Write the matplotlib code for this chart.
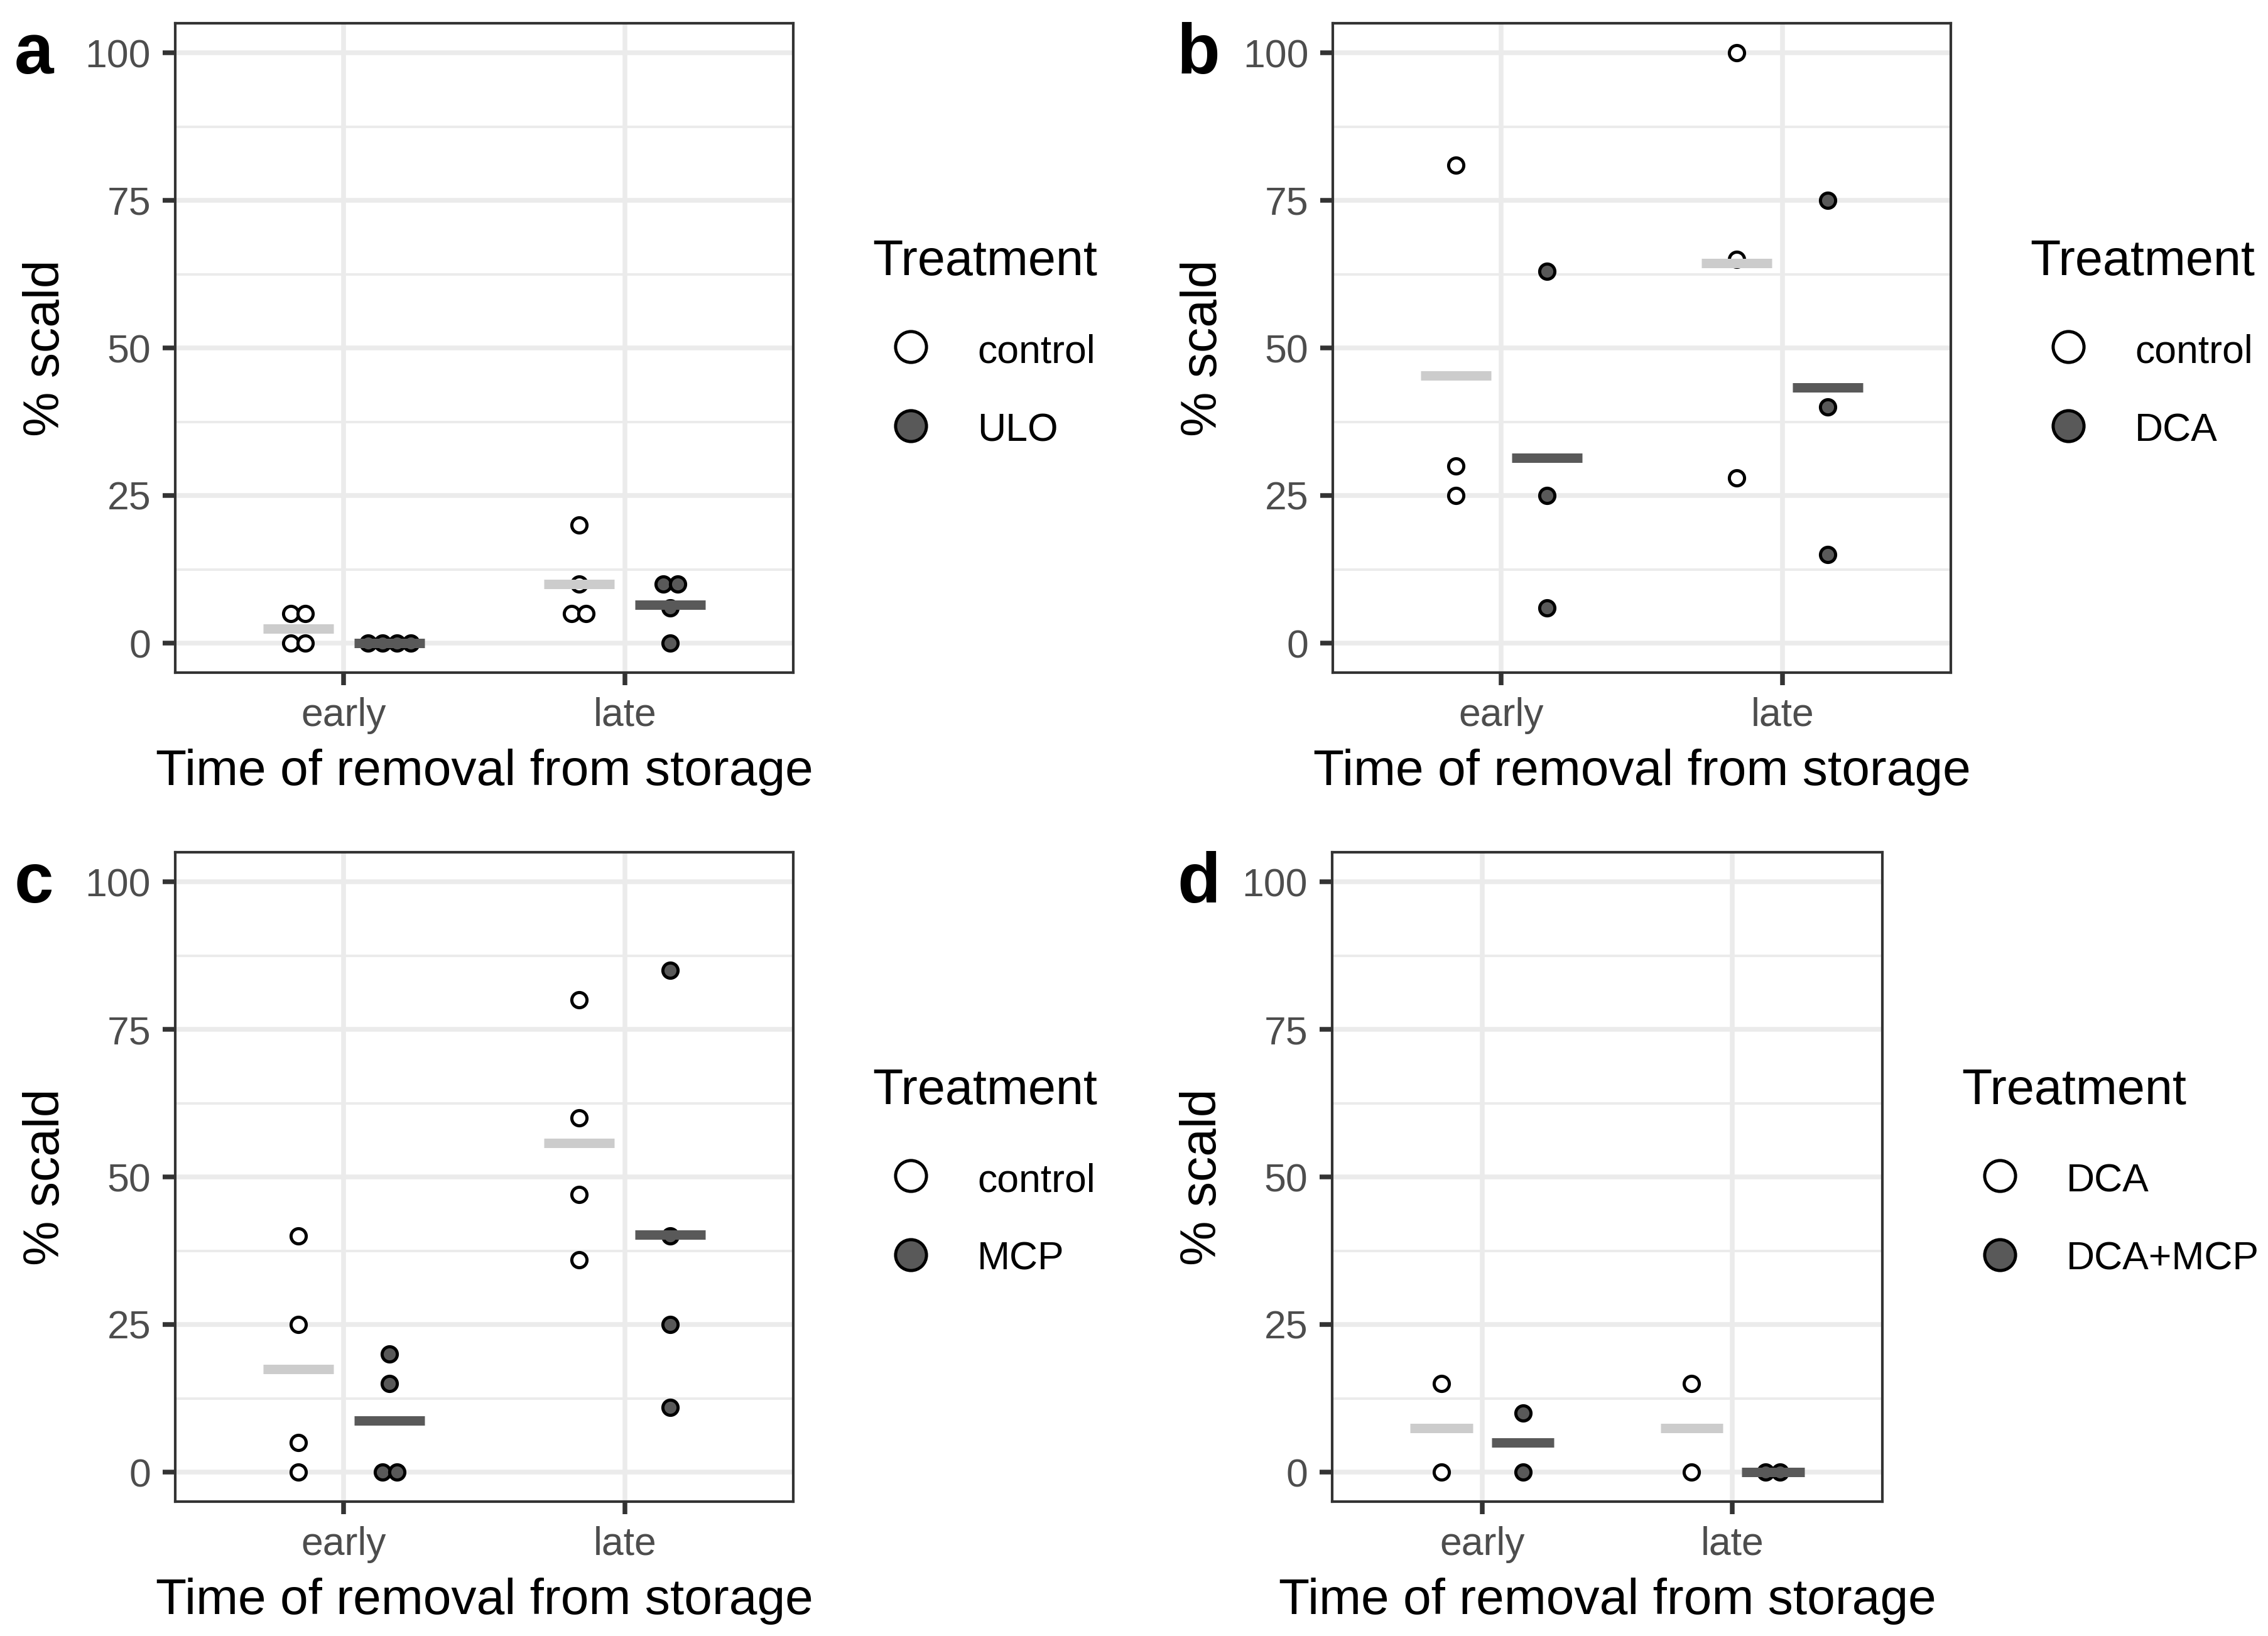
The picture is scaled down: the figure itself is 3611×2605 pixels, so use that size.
import matplotlib.pyplot as plt
from matplotlib.lines import Line2D
from matplotlib.transforms import ScaledTranslation
import numpy as np

plt.rcParams['font.family'] = ['Liberation Sans', 'DejaVu Sans']

# Dados (% scald)
times = ['early', 'late']

a_names = ['control', 'ULO']
a_control = [[5, 5, 0, 0], [20, 10, 5, 5]]
a_treat = [[0, 0, 0, 0], [10, 10, 6, 0]]

b_names = ['control', 'DCA']
b_control = [[81, 30, 25], [100, 65, 28]]
b_treat = [[63, 25, 6], [75, 40, 15]]

c_names = ['control', 'MCP']
c_control = [[40, 25, 5, 0], [80, 60, 47, 36]]
c_treat = [[20, 15, 0, 0], [85, 40, 25, 11]]

d_names = ['DCA', 'DCA+MCP']
d_control = [[15, 0], [15, 0]]
d_treat = [[10, 0], [0, 0]]

yticks = [0, 25, 50, 75, 100]
yminor = [12.5, 37.5, 62.5, 87.5]

W, H, DPI = 3611, 2605, 300
fig = plt.figure(figsize=(W / DPI, H / DPI), dpi=DPI)

FILLS = ['white', '#595959']
BARS = ['#CCCCCC', '#595959']
DODGE = 0.1625


def px(x, y):
    # pixel -> fração da figura
    return x / W, 1 - y / H


def painel(left, top, width, letra, names, groups):
    height = 1034
    x0, y1 = px(left, top)
    ax = fig.add_axes([x0, y1 - height / H, width / W, height / H])

    for g, series in enumerate(groups):
        off = -DODGE if g == 0 else DODGE
        for t, vals in enumerate(series):
            xc = t + 1 + off
            # pontos repetidos lado a lado
            for v in sorted(set(vals)):
                n = vals.count(v)
                for k in range(n):
                    dx = (k - (n - 1) / 2) * 5.5
                    tr = ax.transData + ScaledTranslation(dx / 72, 0, fig.dpi_scale_trans)
                    ax.plot([xc], [v], 'o', ms=5.8, mfc=FILLS[g], mec='black',
                            mew=1.2, transform=tr, zorder=3, clip_on=False)
            m = np.mean(vals)
            ax.plot([xc - 0.125, xc + 0.125], [m, m], color=BARS[g], lw=3.6,
                    solid_capstyle='butt', zorder=4)

    ax.set_xlim(0.4, 2.6)
    ax.set_ylim(-5, 105)
    ax.set_xticks([1, 2], times)
    ax.set_yticks(yticks)
    ax.set_yticks(yminor, minor=True)
    ax.set_axisbelow(True)
    ax.grid(which='major', color='#EBEBEB', lw=1.8)
    ax.yaxis.grid(which='minor', color='#EBEBEB', lw=0.95)
    ax.tick_params(which='major', length=4.9, width=1.8, color='#333333',
                   labelsize=15, labelcolor='#4D4D4D', pad=4.4)
    ax.tick_params(which='minor', length=0)
    for s in ax.spines.values():
        s.set_color('#333333')
        s.set_linewidth(1.0)
    ax.set_xlabel('Time of removal from storage', fontsize=19.3, labelpad=5.6)
    ax.set_ylabel('% scald', fontsize=19.3, labelpad=6)

    # legenda manual
    right = left + width
    dy = top - 37
    tx, ty = px(right + 126, 438 + dy)
    fig.text(tx, ty, 'Treatment', fontsize=19, va='baseline', ha='left')
    for i, name in enumerate(names):
        kx, ky = px(right + 187, 552 + dy + 126 * i)
        fig.add_artist(Line2D([kx], [ky], marker='o', ms=11.8, mfc=FILLS[i],
                              mec='black', mew=1.2, ls='none',
                              transform=fig.transFigure))
        lx, ly = px(right + 293, 577 + dy + 125 * i)
        fig.text(lx, ly, name, fontsize=15, va='baseline', ha='left')

    # letra do painel
    lx = 23 if left < 1000 else 1874
    fx, fy = px(lx, 117 + dy)
    fig.text(fx, fy, letra, fontsize=27, fontweight='bold', va='baseline', ha='left')
    return ax


painel(279, 37, 984, 'a', a_names, [a_control, a_treat])
painel(2122, 37, 984, 'b', b_names, [b_control, b_treat])
painel(279, 1357, 984, 'c', c_names, [c_control, c_treat])
painel(2121, 1357, 876, 'd', d_names, [d_control, d_treat])

fig.savefig('out.png', dpi=DPI)
